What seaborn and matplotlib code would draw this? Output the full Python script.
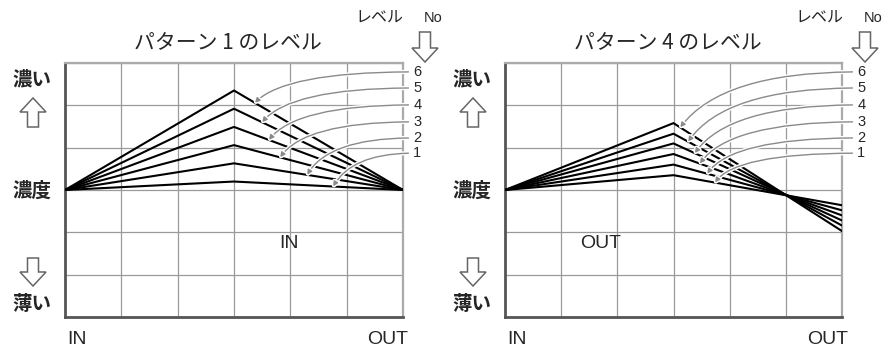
import numpy as np
import pandas as pd
import matplotlib
matplotlib.use("Agg")
import matplotlib.pyplot as plt
import matplotlib.patheffects as pe
from matplotlib.patches import Polygon
import seaborn as sns

# ---------------- data ----------------
levels = [1, 2, 3, 4, 5, 6]
x_points = [0, 3, 6]                      # IN, middle, OUT
p1_peak = [0.20, 0.63, 1.06, 1.49, 1.92, 2.35]
p1_out = [0.0, 0.0, 0.0, 0.0, 0.0, 0.0]
p4_peak = [0.35, 0.60, 0.85, 1.10, 1.33, 1.58]
p4_out = [-0.36, -0.48, -0.60, -0.72, -0.84, -0.97]
p1_arrow_x = [4.76, 4.30, 3.82, 3.62, 3.50, 3.37]
p4_arrow_x = [3.74, 3.60, 3.47, 3.38, 3.26, 3.12]
p1_arrow_ang = [60, 60, 55, 52, 50, 45]
p4_arrow_ang = [55, 55, 55, 55, 55, 53]
label_y = [0.87, 1.23, 1.61, 2.01, 2.41, 2.79]
titles = ["パターン 1 のレベル", "パターン 4 のレベル"]
inner_labels = ["IN", "OUT"]

def make_df(peaks, outs):
    rows = []
    for lv, pk, ot in zip(levels, peaks, outs):
        for xv, yv in zip(x_points, [0.0, pk, ot]):
            rows.append({"level": lv, "x": xv, "y": yv})
    return pd.DataFrame(rows)

df1 = make_df(p1_peak, p1_out)
df4 = make_df(p4_peak, p4_out)

# ---------------- style ----------------
sns.set_style("white")
plt.rcParams["font.family"] = ["Noto Sans CJK JP", "DejaVu Sans"]
LAT = ["Liberation Sans", "DejaVu Sans"]

W, H = 888, 352
fig = plt.figure(figsize=(W / 100, H / 100), dpi=100)

def fx(px):
    return px / W

def fy(py):
    return 1 - py / H

ax_specs = [(65, 403), (505, 842)]
top, bottom = 63, 317

def hollow_arrow(cx, y_tail, y_tip):
    hw, sw = 13, 5.5
    hl = 14 if y_tip > y_tail else -14
    ys = y_tip - hl
    pts = [(cx - sw, y_tail), (cx + sw, y_tail), (cx + sw, ys), (cx + hw, ys),
           (cx, y_tip), (cx - hw, ys), (cx - sw, ys)]
    poly = Polygon([(fx(a), fy(b)) for a, b in pts], closed=True,
                   transform=fig.transFigure, facecolor="white",
                   edgecolor="#666666", lw=1.1)
    fig.add_artist(poly)

datasets = [(df1, p1_peak, p1_out, p1_arrow_x, p1_arrow_ang, 6.18),
            (df4, p4_peak, p4_out, p4_arrow_x, p4_arrow_ang, 6.27)]
offsets = [0, 440]
inner_pos = [(289, 244), (601, 244)]

for k, ((l, r), (df, peaks, outs, arrx, angs, labx)) in enumerate(zip(ax_specs, datasets)):
    ax = fig.add_axes([fx(l), fy(bottom), (r - l) / W, (bottom - top) / H])
    ax.set_xlim(0, 6)
    ax.set_ylim(-3, 3)
    ax.set_xticks(range(0, 7))
    ax.set_yticks(range(-3, 4))
    ax.grid(True, color="#9a9a9a", lw=0.9)
    ax.tick_params(length=0, labelbottom=False, labelleft=False)
    for side, col, lw in [("left", "#555555", 2.0), ("bottom", "#555555", 2.0),
                          ("top", "#aaaaaa", 1.6), ("right", "#aaaaaa", 1.6)]:
        ax.spines[side].set_color(col)
        ax.spines[side].set_linewidth(lw)
        ax.spines[side].set_visible(True)

    sns.lineplot(data=df, x="x", y="y", units="level", estimator=None,
                 color="black", lw=1.5, ax=ax, legend=False, zorder=3)
    ax.set_xlabel("")
    ax.set_ylabel("")

    for lv, ax_x, ang, ly, pk, ot in zip(levels, arrx, angs, label_y, peaks, outs):
        ty = np.interp(ax_x, x_points, [0.0, pk, ot])
        ax.annotate(str(lv), xy=(ax_x, ty), xytext=(labx, ly),
                    textcoords="data", ha="left", va="center",
                    fontsize=10.5, family=LAT, annotation_clip=False,
                    arrowprops=dict(arrowstyle="-|>", color="#8a8a8a", lw=1.0,
                                    mutation_scale=7, shrinkA=1, shrinkB=0,
                                    relpos=(0, 0.5),
                                    connectionstyle=f"angle3,angleA=0,angleB={ang}",
                                    path_effects=[pe.Stroke(linewidth=3, foreground="white"),
                                                  pe.Normal()]),
                    zorder=4)

    ix, iy = inner_pos[k]
    fig.text(fx(ix), fy(iy), inner_labels[k], ha="center", va="center",
             fontsize=14, family=LAT)

    o = offsets[k]
    fig.text(fx(228 + o), fy(43), titles[k], ha="center", va="center", fontsize=15)
    fig.text(fx(379 + o), fy(18), "レベル", ha="center", va="center", fontsize=11.5)
    fig.text(fx(433 + o), fy(18), "No", ha="center", va="center", fontsize=10.5, family=LAT)
    hollow_arrow(425 + o, 32, 62)
    fig.text(fx(32 + o), fy(80), "濃い", ha="center", va="center", fontsize=14, fontweight="bold")
    hollow_arrow(33 + o, 127, 98)
    fig.text(fx(32 + o), fy(191), "濃度", ha="center", va="center", fontsize=14, fontweight="bold")
    hollow_arrow(33 + o, 258, 286)
    fig.text(fx(32 + o), fy(304), "薄い", ha="center", va="center", fontsize=14, fontweight="bold")
    fig.text(fx(77 + o), fy(339), "IN", ha="center", va="center", fontsize=14, family=LAT)
    fig.text(fx(388 + o), fy(339), "OUT", ha="center", va="center", fontsize=14, family=LAT)

fig.savefig("out.png", dpi=100)
